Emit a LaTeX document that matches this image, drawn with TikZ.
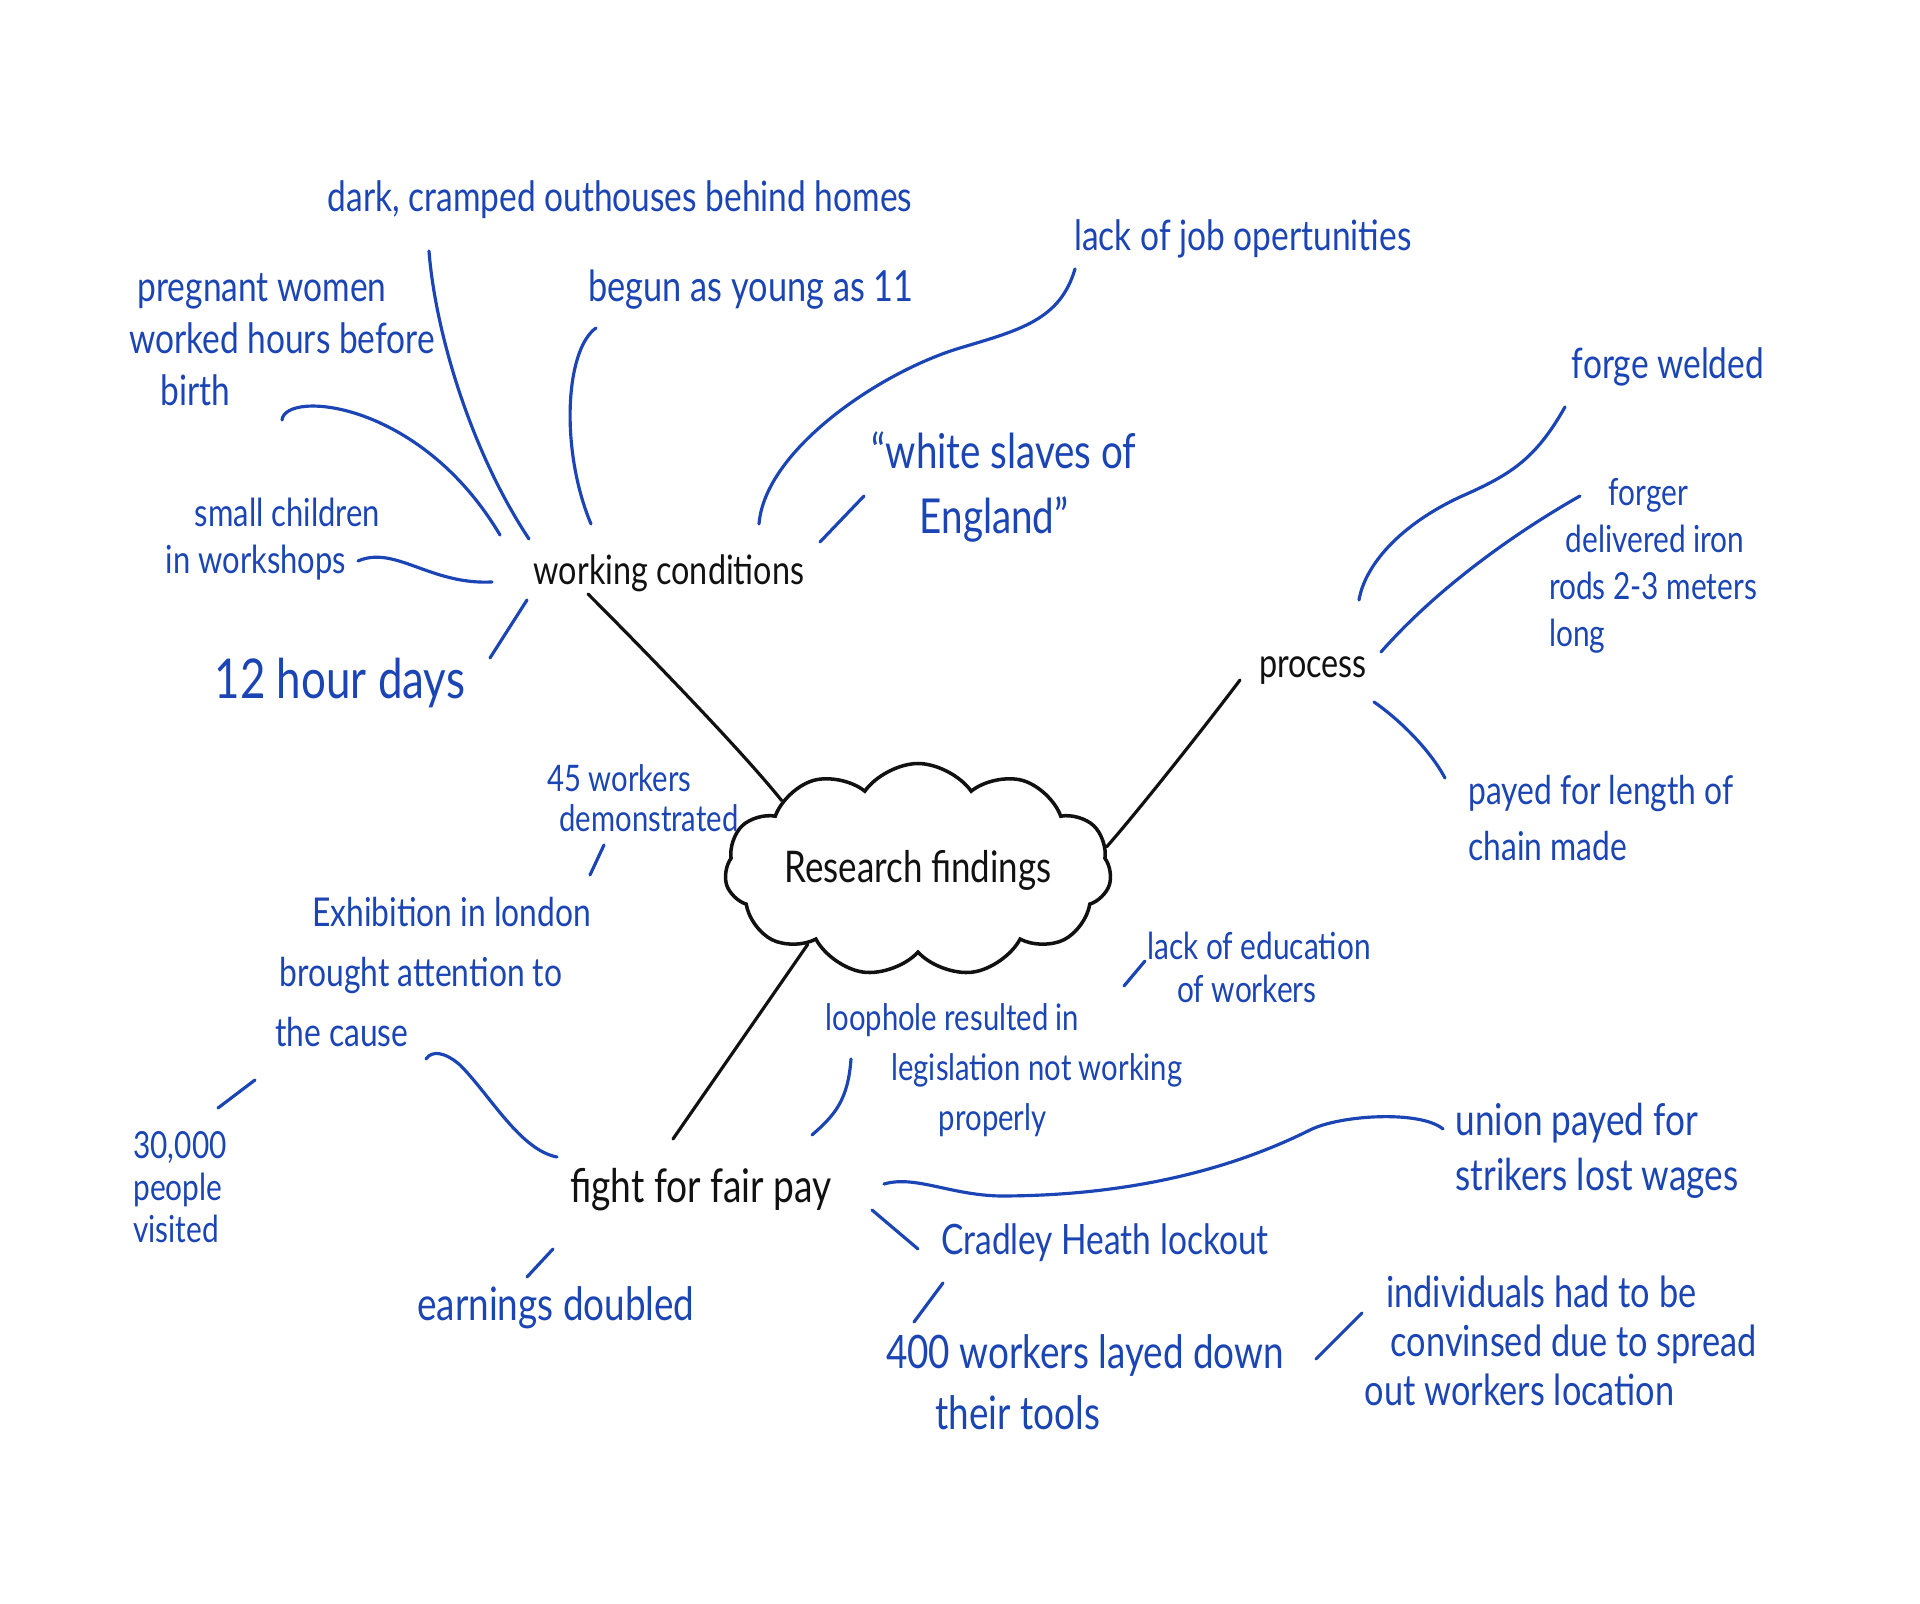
\documentclass[tikz,border=0pt]{standalone}
\usepackage{fontspec}
\setmainfont{Lato}[FakeStretch=0.8]
\usepackage{tikz}
\usetikzlibrary{shapes.symbols, calc}
\definecolor{inkblue}{RGB}{27,69,180}
\definecolor{inkblack}{RGB}{17,17,17}
\newcommand{\hand}[2]{\fontsize{#1}{#2}\selectfont}

\begin{document}
\begin{tikzpicture}[
    x=0.01cm, y=-0.01cm,
    topic/.style={text=inkblack, inner sep=2pt},
    idea/.style={text=inkblue, align=left, inner sep=2pt},
    core/.style={cloud, cloud puffs=11, cloud puff arc=110, aspect=2.3, draw=inkblack, line width=1pt, inner sep=0pt, text=inkblack, minimum width=3.75cm, minimum height=1.65cm},
    trunk/.style={draw=inkblack, line width=0.9pt, line cap=round},
    twig/.style={draw=inkblue, line width=0.9pt, line cap=round}
]
\path[use as bounding box, fill=white] (0,0) rectangle (1920,1604);

% Centre and main topics
\node[core, font=\hand{12.4}{15}] (core) at (918,870) {Research findings};
\node[topic, font=\hand{11.5}{14}] (work) at (669,573) {working conditions};
\node[topic, font=\hand{11.5}{14}] (proc) at (1313,671) {process};
\node[topic, font=\hand{13.2}{15}] (fight) at (701,1190) {fight for fair pay};

% Working conditions
\node[idea, font=\hand{11.9}{15}] (outhouse) at (620,200) {dark, cramped outhouses behind homes};
\node[idea, font=\hand{11.9}{14.8}] (pregnant) at (282,340) {\hspace*{0.2em}pregnant women\\worked hours before\\\hspace*{0.75em}birth};
\node[idea, font=\hand{12.2}{15}] (youngest) at (751,290) {begun as young as 11};
\node[idea, font=\hand{11.9}{15}] (nojobs) at (1243,239) {lack of job opertunities};
\node[idea, font=\hand{13.7}{18.5}] (slaves) at (1004,487) {“white slaves of\\\hspace*{1em}England”};
\node[idea, font=\hand{11}{13.2}] (children) at (273,539) {\hspace*{0.75em}small children\\in workshops};
\node[idea, font=\hand{15.6}{18}] (hours) at (340,683) {12 hour days};

% Process
\node[idea, font=\hand{11.9}{15}] (forge) at (1668,367) {forge welded};
\node[idea, font=\hand{10.6}{13.3}] (forger) at (1653,566) {\hspace*{1.6em}forger\\\hspace*{0.45em}delivered iron\\rods 2-3 meters\\long};
\node[idea, font=\hand{11.3}{15.7}] (chainpay) at (1601,818) {payed for length of\\chain made};

% Fight for fair pay
\node[idea, font=\hand{10.4}{11.5}] (demo) at (643,798) {45 workers\\\hspace*{0.33em}demonstrated};
\node[idea, font=\hand{11.3}{17}] (exhibit) at (433,972) {\hspace*{0.93em}Exhibition in london\\\hspace*{0.12em}brought attention to\\the cause};
\node[idea, font=\hand{10.6}{12}] (visitors) at (180,1187) {30,000\\people\\visited};
\node[idea, font=\hand{13.1}{16}] (earnings) at (556,1308) {earnings doubled};
\node[idea, font=\hand{10.4}{14.3}] (loophole) at (1004,1070) {loophole resulted in\\\hspace*{1.8em}legislation not working\\\hspace*{3.1em}properly};
\node[idea, font=\hand{10.6}{12.2}] (education) at (1259,967) {lack of education\\\hspace*{0.8em}of workers};
\node[idea, font=\hand{12.5}{15.7}] (union) at (1597,1151) {union payed for\\strikers lost wages};
\node[idea, font=\hand{11.9}{15}] (lockout) at (1105,1243) {Cradley Heath lockout};
\node[idea, font=\hand{13.1}{17.4}] (tools) at (1085,1382) {400 workers layed down\\\hspace*{1.07em}their tools};
\node[idea, font=\hand{12.2}{14}] (convince) at (1561,1341) {\hspace*{0.5em}individuals had to be\\\hspace*{0.6em}convinsed due to spread\\out workers location};

% Main branches
\draw[trunk] ([shift={(-81,21)}]work.center) .. controls +(55,55) and +(-40,-50) .. (core.153);
\draw[trunk] ([shift={(-73,9)}]proc.center) .. controls +(-30,40) and +(35,-40) .. (core.7);
\draw[trunk] ([shift={(-28,-51)}]fight.center) -- (core.214);

% Twigs of working conditions
\draw[twig] ([shift={(-191,51)}]outhouse.center) .. controls +(6,79) and +(-59,-89) .. ([shift={(-140,-34)}]work.center);
\draw[twig] ([shift={(0,80)}]pregnant.center) .. controls +(3,-30) and +(-80,-135) .. ([shift={(-169,-38)}]work.center);
\draw[twig] ([shift={(-155,38)}]youngest.center) .. controls +(-31,22) and +(-31,-74) .. ([shift={(-78,-49)}]work.center);
\draw[twig] ([shift={(-168,30)}]nojobs.center) .. controls +(-15,51) and +(60,-18) .. ($(nojobs.center)+(-283,109)$)
    .. controls +(-80,24) and +(6,-74) .. ([shift={(90,-49)}]work.center);
\draw[twig] ([shift={(-140,9)}]slaves.center) -- ([shift={(151,-31)}]work.center);
\draw[twig] ([shift={(85,22)}]children.center) .. controls +(37,-16) and +(-62,3) .. ([shift={(-177,9)}]work.center);
\draw[twig] ([shift={(-142,27)}]work.center) -- ([shift={(150,-25)}]hours.center);

% Twigs of process
\draw[twig] ([shift={(-103,40)}]forge.center) .. controls +(-30,53) and +(50,-22) .. ($(forge.center)+(-208,130)$)
    .. controls +(-60,28) and +(6,-35) .. ([shift={(46,-71)}]proc.center);
\draw[twig] ([shift={(-73,-70)}]forger.center) .. controls +(-60,34) and +(59,-67) .. ([shift={(68,-19)}]proc.center);
\draw[twig] ([shift={(61,31)}]proc.center) .. controls +(26,18) and +(-15,-28) .. ([shift={(-156,-40)}]chainpay.center);

% Twigs of fight for fair pay
\draw[twig] ([shift={(-39,47)}]demo.center) -- ([shift={(157,-97)}]exhibit.center);
\draw[twig] ([shift={(-7,87)}]exhibit.center) .. controls +(6,-9) and +(-15,-13) .. ($(exhibit.center)+(27,93)$)
    .. controls +(30,30) and +(-37,-7) .. ([shift={(-144,-33)}]fight.center);
\draw[twig] ([shift={(-178,108)}]exhibit.center) -- ([shift={(38,-79)}]visitors.center);
\draw[twig] ([shift={(-148,59)}]fight.center) -- ([shift={(-29,-31)}]earnings.center);
\draw[twig] ([shift={(-153,-11)}]loophole.center) .. controls +(-3,41) and +(23,-20) .. ([shift={(111,-55)}]fight.center);
\draw[twig] ([shift={(-114,-6)}]education.center) -- ([shift={(120,-84)}]loophole.center);
\draw[twig] ([shift={(183,-6)}]fight.center) .. controls +(31,-9) and +(-50,-1) .. ($(fight.center)+(299,6)$)
    .. controls +(150,0) and +(-60,30) .. ($(union.center)+(-287,-21)$)
    .. controls +(30,-15) and +(-23,-19) .. ([shift={(-154,-22)}]union.center);
\draw[twig] ([shift={(171,20)}]fight.center) -- ([shift={(-187,6)}]lockout.center);
\draw[twig] ([shift={(-162,40)}]lockout.center) -- ([shift={(-171,-60)}]tools.center);
\draw[twig] ([shift={(231,-23)}]tools.center) -- ([shift={(-199,-28)}]convince.center);

\end{tikzpicture}
\end{document}
